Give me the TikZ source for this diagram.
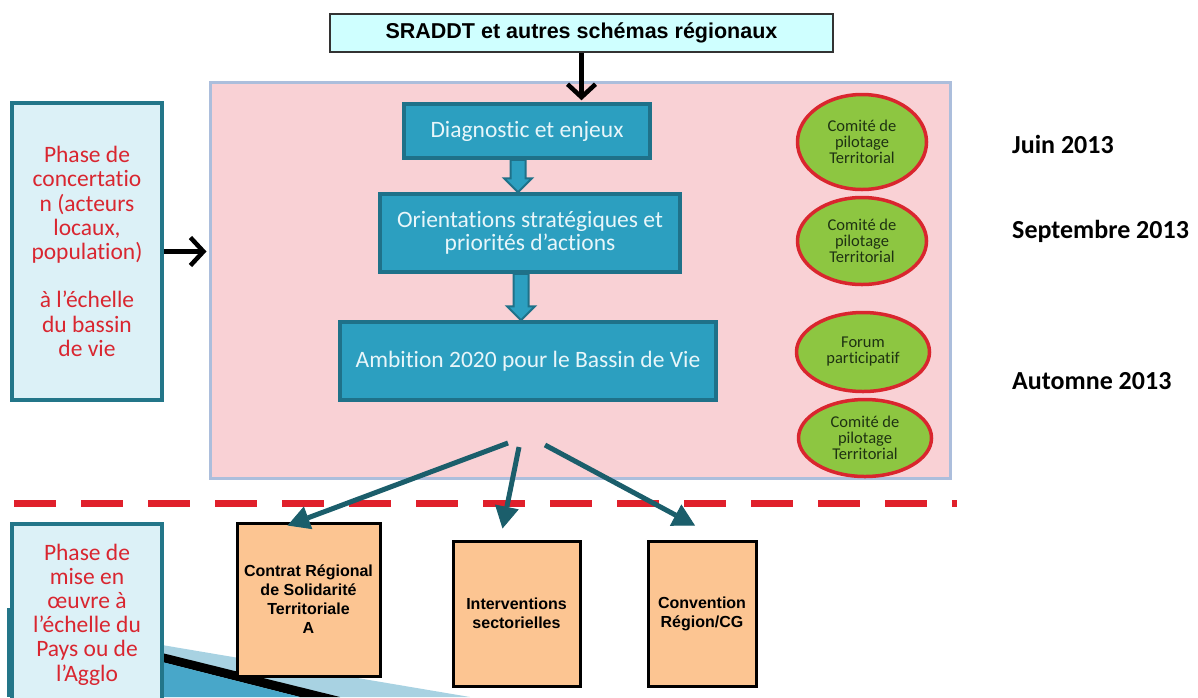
\documentclass[tikz,border=0pt]{standalone}
\usepackage{fontspec}
\setmainfont{Carlito}[RawFeature={-liga;-clig;-dlig;-calt}]
\newfontfamily\arialfont{Liberation Sans}
\usetikzlibrary{arrows.meta,calc,shapes.geometric}

\definecolor{tealfill}{HTML}{2C9FC0}
\definecolor{tealline}{HTML}{1F7189}
\definecolor{tealtext}{HTML}{E8F6FA}
\definecolor{pinkfill}{HTML}{F9D1D5}
\definecolor{pinkline}{HTML}{ACBEDC}
\definecolor{greenfill}{HTML}{8DC641}
\definecolor{ovalline}{HTML}{D9262E}
\definecolor{ovaltext}{HTML}{1E3212}
\definecolor{phasefill}{HTML}{DCF1F7}
\definecolor{phaseline}{HTML}{237689}
\definecolor{phasetext}{HTML}{D92630}
\definecolor{orangefill}{HTML}{FCC592}
\definecolor{fancolor}{HTML}{1B5E6B}
\definecolor{cutred}{HTML}{E0202B}
\definecolor{topfill}{HTML}{CFFFFF}
\definecolor{decolight}{HTML}{A8D2E2}
\definecolor{decodeep}{HTML}{48A7C9}

\newcommand\blockarrow[2]{%
  \coordinate (batop) at ($(#1.south)+(-9,0)$);
  \coordinate (batip) at (batop |- #2.north);
  \path[blockarr] ($(batop)+(-7.5,0)$) -- ($(batip)+(-7.5,-14)$)
    -- ($(batip)+(-14,-14)$) -- (batip) -- ($(batip)+(14,-14)$)
    -- ($(batip)+(7.5,-14)$) -- ($(batop)+(7.5,0)$) -- cycle;}

\begin{document}
\begin{tikzpicture}[x=1pt, y=-1pt,
  every node/.style={align=center, inner sep=0pt},
  sourcebox/.style={rectangle, fill=topfill, draw=black!80, line width=1.2pt,
    minimum width=503pt, minimum height=38pt,
    font=\arialfont\bfseries\fontsize{21.5}{24}\selectfont},
  regionbox/.style={rectangle, fill=pinkfill, draw=pinkline, line width=3pt,
    minimum width=740pt, minimum height=396pt},
  stagebox/.style={rectangle, fill=tealfill, draw=tealline, line width=3.5pt,
    text=tealtext, font=\fontsize{23.5}{23.5}\selectfont},
  copil/.style={ellipse, fill=greenfill, draw=ovalline, line width=3.5pt,
    text=ovaltext, minimum width=129pt, font=\fontsize{16.5}{16}\selectfont},
  phasebox/.style={rectangle, fill=phasefill, draw=phaseline, line width=4pt,
    text=phasetext, minimum width=150pt, font=\fontsize{23.5}{24.2}\selectfont},
  toolbox/.style={rectangle, fill=orangefill, draw=black, line width=3pt,
    font=\arialfont\bfseries\fontsize{16}{19}\selectfont},
  datelabel/.style={anchor=west, font=\bfseries\fontsize{26}{28}\selectfont},
  blackarrow/.style={line width=4.5pt, shorten >=2pt,
    -{Straight Barb[length=13pt,width=28pt,line width=4.5pt]}},
  fanarrow/.style={draw=fancolor, line width=5pt,
    -{Triangle[length=22pt,width=24pt,line width=1pt]}},
  blockarr/.style={fill=tealfill, draw=tealline, line width=2pt},
  cutline/.style={draw=cutred, line width=7pt, dash pattern=on 42pt off 25pt}
]
\useasboundingbox (0,0) rectangle (1198,697);
\clip (0,0) rectangle (1198,697);

\node[sourcebox] (sraddt) at (581.5,33) {SRADDT et autres schémas régionaux};
\node[regionbox] (region) at (580,280) {};

\node[stagebox, minimum width=246pt, minimum height=54pt] (diag) at (527,131) {Diagnostic et enjeux};
\node[stagebox, minimum width=300pt, minimum height=78pt] (orient) at (530,233) {Orientations stratégiques et\\priorités d’actions};
\node[stagebox, minimum width=376pt, minimum height=78pt] (ambition) at (528,361) {Ambition 2020 pour le Bassin de Vie};

\blockarrow{diag}{orient}
\blockarrow{orient}{ambition}

\node[copil, minimum height=95pt] (copil1) at (862,142) {Comité de\\pilotage\\Territorial};
\node[copil, minimum height=87pt] (copil2) at (862,241) {Comité de\\pilotage\\Territorial};
\node[copil, minimum width=133pt, minimum height=79pt] (forum) at (863,352) {Forum\\participatif};
\node[copil, minimum width=133pt, minimum height=77pt] (copil3) at (865,438) {Comité de\\pilotage\\Territorial};

\node[datelabel] (juin) at (1012,144) {Juin 2013};
\node[datelabel] (sept) at (1012,231) {Septembre 2013};
\node[datelabel] (automne) at (1012,381) {Automne 2013};

\node[phasebox, minimum height=297pt] (concert) at (87,251.5) {Phase de\\concertatio\\n (acteurs\\locaux,\\population)\\[24.2pt]à l’échelle\\du bassin\\de vie};

\draw[blackarrow] (sraddt.south) -- (sraddt.south |- diag.north);
\draw[blackarrow] (concert.east) -- (concert.east -| region.west);

\coordinate (cutL) at (14,503);
\coordinate (cutR) at (957,503);
\draw[cutline] (cutL) -- (cutR);

\fill[decolight] (162,645) -- (470,697) -- (162,697) -- cycle;
\fill[black] (162,653) -- (340,697) -- (300,697) -- (162,662) -- cycle;
\fill[decodeep] (162,662) -- (300,697) -- (162,697) -- cycle;
\fill[phaseline] (7,608) rectangle (14,697);

\node[toolbox, minimum width=143pt, minimum height=153pt] (crst) at (308.5,599.5) {Contrat Régional\\de Solidarité\\Territoriale\\A};
\node[toolbox, minimum width=127pt, minimum height=145pt] (sector) at (516.5,613.5) {Interventions\\sectorielles};
\node[toolbox, minimum width=108pt, minimum height=145pt] (convention) at (702,613.5) {Convention\\Région/CG};

\coordinate (fanL) at (508,443);
\coordinate (fanM) at (519,447);
\coordinate (fanR) at (545,445);
\draw[fanarrow] (fanL) -- ($(crst.north)+(-21,4)$);
\draw[fanarrow] (fanM) -- ($(sector.north)+(-14,-11)$);
\draw[fanarrow] (fanR) -- ($(convention.north)+(-7,-14)$);

\node[phasebox, minimum height=181pt] (mise) at (87,614.5) {Phase de\\mise en\\œuvre à\\l’échelle du\\Pays ou de\\l’Agglo};
\end{tikzpicture}
\end{document}
